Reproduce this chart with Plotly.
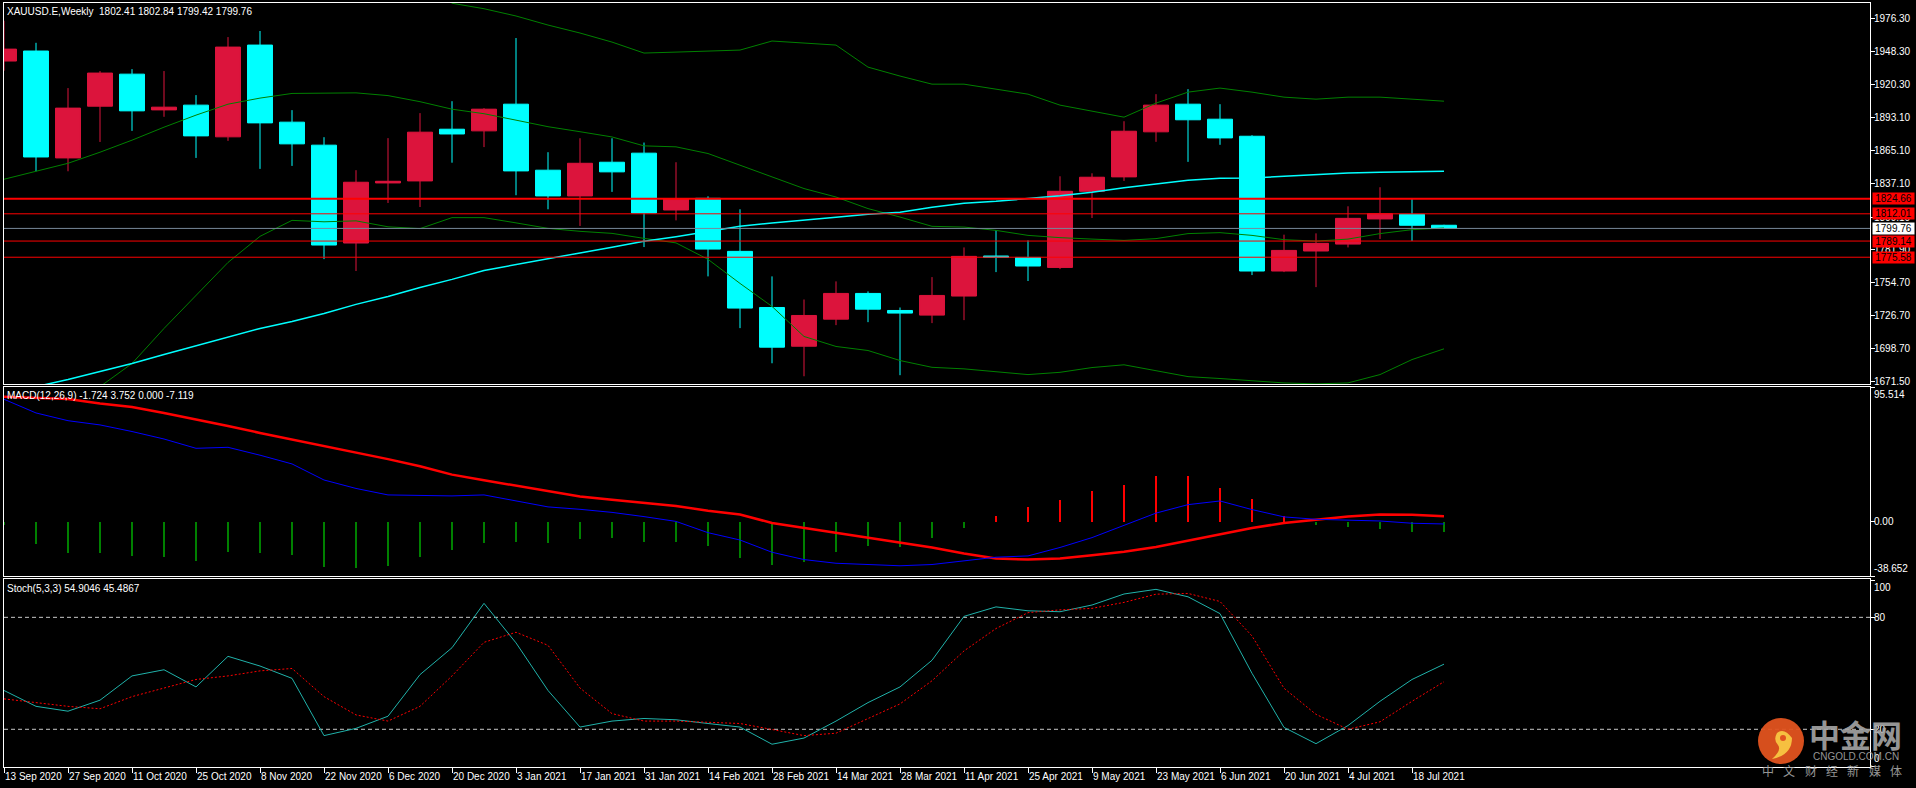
import plotly.graph_objects as go

W, H = 1916, 788

# ---------------- data ----------------
week_labels = ["13 Sep 2020", "20 Sep 2020", "27 Sep 2020", "4 Oct 2020", "11 Oct 2020", "18 Oct 2020",
               "25 Oct 2020", "1 Nov 2020", "8 Nov 2020", "15 Nov 2020", "22 Nov 2020", "29 Nov 2020",
               "6 Dec 2020", "13 Dec 2020", "20 Dec 2020", "27 Dec 2020", "3 Jan 2021", "10 Jan 2021",
               "17 Jan 2021", "24 Jan 2021", "31 Jan 2021", "7 Feb 2021", "14 Feb 2021", "21 Feb 2021",
               "28 Feb 2021", "7 Mar 2021", "14 Mar 2021", "21 Mar 2021", "28 Mar 2021", "4 Apr 2021",
               "11 Apr 2021", "18 Apr 2021", "25 Apr 2021", "2 May 2021", "9 May 2021", "16 May 2021",
               "23 May 2021", "30 May 2021", "6 Jun 2021", "13 Jun 2021", "20 Jun 2021", "27 Jun 2021",
               "4 Jul 2021", "11 Jul 2021", "18 Jul 2021", "25 Jul 2021"]

opens = [1940.2, 1948.6, 1858.9, 1902.3, 1929.2, 1899.2, 1903.2, 1876.6, 1953.6, 1888.9,
         1869.6, 1787.5, 1837.9, 1839.6, 1883.0, 1881.6, 1904.0, 1848.6, 1827.0, 1855.3,
         1862.9, 1815.2, 1825.0, 1780.5, 1733.4, 1700.9, 1723.6, 1745.2, 1730.9, 1727.0,
         1743.0, 1776.6, 1775.4, 1767.0, 1830.9, 1843.0, 1880.8, 1904.0, 1891.4, 1877.1,
         1764.0, 1780.8, 1786.6, 1807.7, 1811.6, 1802.41]
highs = [1974.0, 1955.5, 1917.5, 1931.8, 1933.4, 1931.8, 1911.6, 1960.3, 1965.4, 1899.0,
         1876.3, 1848.6, 1875.5, 1896.5, 1906.5, 1900.7, 1959.5, 1863.7, 1875.4, 1875.4,
         1871.8, 1855.3, 1826.7, 1815.8, 1759.5, 1740.1, 1755.3, 1746.9, 1733.4, 1758.9,
         1783.8, 1798.4, 1789.7, 1843.5, 1846.0, 1889.7, 1912.4, 1916.6, 1904.0, 1878.0,
         1794.5, 1795.6, 1818.3, 1834.3, 1825.0, 1802.84]
lows = [1932.0, 1847.7, 1847.7, 1872.3, 1881.6, 1893.4, 1858.9, 1873.2, 1849.7, 1852.2,
        1774.0, 1764.0, 1821.1, 1817.7, 1854.9, 1868.0, 1827.6, 1815.8, 1801.8, 1830.4,
        1784.1, 1806.5, 1759.5, 1716.1, 1686.6, 1675.7, 1718.6, 1721.1, 1676.6, 1720.3,
        1722.8, 1763.1, 1755.6, 1765.6, 1808.5, 1839.6, 1872.4, 1855.6, 1869.9, 1760.6,
        1763.1, 1750.5, 1783.8, 1790.9, 1789.2, 1799.42]
closes = [1950.2, 1859.7, 1900.7, 1930.1, 1898.4, 1901.5, 1877.4, 1951.9, 1888.3, 1870.7,
          1785.8, 1838.5, 1839.3, 1880.5, 1879.0, 1899.8, 1848.0, 1827.0, 1854.4, 1847.2,
          1812.7, 1824.5, 1782.4, 1732.9, 1700.1, 1726.7, 1745.2, 1732.0, 1728.7, 1743.5,
          1776.3, 1775.4, 1768.2, 1830.9, 1842.7, 1881.3, 1903.2, 1890.9, 1875.7, 1764.0,
          1781.3, 1787.2, 1808.2, 1812.1, 1802.4, 1799.76]

bb_upper = [2090.0, 2080.0, 2070.0, 2060.4, 2061.2, 2053.6, 2046.1, 2036.8, 2025.1, 2019.5,
            2021.7, 2020.9, 2021.3, 2012.6, 1988.7, 1984.1, 1978.0, 1970.4, 1963.7, 1956.1,
            1946.9, 1947.7, 1948.6, 1949.4, 1957.0, 1955.3, 1953.6, 1935.1, 1927.6, 1920.8,
            1920.8, 1916.6, 1912.4, 1903.2, 1898.1, 1893.1, 1904.9, 1914.1, 1917.5, 1914.1,
            1909.9, 1908.2, 1909.9, 1909.9, 1908.2, 1906.5]
bb_middle = [1841.0, 1848.0, 1854.4, 1863.7, 1873.8, 1884.7, 1894.8, 1904.0, 1909.1, 1913.0,
             1913.5, 1913.5, 1911.2, 1906.1, 1899.8, 1896.0, 1890.6, 1885.1, 1880.9, 1876.5,
             1869.0, 1868.2, 1862.6, 1852.8, 1842.9, 1833.2, 1826.1, 1816.4, 1809.3, 1801.5,
             1800.9, 1798.1, 1793.9, 1792.0, 1790.8, 1789.7, 1791.2, 1795.4, 1796.2, 1793.9,
             1790.3, 1789.1, 1790.8, 1795.4, 1798.7, 1800.1]
bb_lower = [1590.0, 1615.0, 1640.0, 1667.0, 1686.4, 1715.8, 1743.5, 1771.2, 1793.1, 1806.5,
            1805.3, 1806.1, 1801.1, 1799.6, 1808.8, 1808.8, 1804.4, 1799.8, 1797.3, 1795.6,
            1791.4, 1787.6, 1773.8, 1753.6, 1734.3, 1709.1, 1700.7, 1697.3, 1688.9, 1683.2,
            1681.9, 1679.6, 1677.1, 1679.0, 1683.0, 1685.3, 1680.5, 1675.4, 1673.8, 1672.1,
            1670.1, 1669.3, 1670.1, 1677.1, 1689.7, 1698.7]
ma_line = [1660.3, 1667.0, 1672.9, 1679.6, 1686.4, 1693.9, 1701.1, 1708.6, 1715.8, 1721.7,
           1728.4, 1736.0, 1742.7, 1750.2, 1757.0, 1764.5, 1769.6, 1774.2, 1779.2, 1783.9,
           1788.9, 1792.7, 1797.3, 1801.5, 1804.4, 1806.5, 1809.1, 1811.6, 1813.3, 1817.5,
           1820.8, 1822.5, 1824.6, 1827.1, 1830.1, 1833.9, 1837.0, 1840.2, 1841.8, 1842.1,
           1843.5, 1845.2, 1846.3, 1846.9, 1847.3, 1847.7]

macd_main = [86.8, 77.1, 71.6, 68.6, 63.9, 58.6, 52.0, 52.7, 47.1, 40.9,
             29.5, 23.5, 18.9, 18.4, 18.2, 18.9, 14.6, 10.4, 8.7, 6.5,
             3.5, 0.1, -7.9, -13.1, -21.8, -27.0, -29.6, -30.5, -31.4, -30.5,
             -28.0, -25.3, -24.4, -18.4, -11.4, -2.8, 6.0, 12.0, 14.6, 8.5,
             3.3, 1.6, 0.8, 0.4, -1.2, -1.724]
macd_signal = [88.6, 87.9, 87.0, 83.8, 81.3, 77.1, 72.7, 67.8, 62.9, 58.3,
               53.7, 49.2, 44.3, 39.3, 33.3, 29.3, 25.3, 21.7, 17.8, 15.5,
               13.3, 11.1, 7.7, 5.0, -1.0, -4.5, -7.9, -11.4, -14.9, -18.4,
               -22.7, -26.2, -27.0, -26.2, -24.0, -21.5, -18.0, -13.5, -9.0, -4.6,
               -1.0, 1.5, 3.6, 5.0, 4.8, 3.752]
macd_hist = [-2.3, -15.9, -22.0, -22.0, -24.8, -25.5, -27.7, -21.3, -22.0, -23.7,
             -32.0, -32.7, -31.3, -25.5, -20.5, -14.9, -14.2, -14.9, -12.3, -11.4,
             -14.2, -14.2, -17.4, -26.2, -30.5, -28.7, -21.6, -17.4, -18.0, -12.0,
             -4.5, 4.2, 10.4, 15.5, 21.6, 26.0, 32.0, 32.0, 24.0, 16.3,
             4.0, -2.5, -3.8, -5.5, -7.2, -7.119]

stoch_main = [40.8, 32.3, 29.7, 35.6, 48.6, 51.9, 42.7, 59.1, 53.9, 47.3,
              16.6, 20.5, 27.0, 49.3, 63.7, 87.5, 66.3, 40.8, 21.2, 24.4,
              25.8, 25.1, 23.1, 21.2, 12.0, 15.3, 24.4, 34.3, 42.7, 57.0,
              80.5, 85.6, 83.5, 83.0, 86.6, 92.5, 95.0, 91.0, 82.0, 50.0,
              21.0, 12.3, 22.0, 35.0, 46.7, 54.9046]
stoch_signal = [36.3, 34.3, 32.3, 31.0, 37.5, 42.1, 46.7, 48.6, 51.3, 52.6,
                37.5, 27.7, 24.4, 32.3, 48.6, 66.6, 72.0, 65.0, 42.1, 28.4,
                24.4, 24.4, 23.8, 23.1, 19.9, 16.6, 17.9, 25.8, 33.6, 46.0,
                62.0, 74.0, 82.5, 84.0, 84.8, 88.0, 92.4, 92.8, 88.5, 70.0,
                42.0, 28.0, 20.0, 24.0, 35.0, 45.4867]

price_ticks = [1976.30, 1948.30, 1920.30, 1893.10, 1865.10, 1837.10, 1809.10,
               1781.90, 1754.70, 1726.70, 1698.70, 1671.50]
level_lines = [1824.66, 1812.01, 1789.14, 1775.58]
level_widths = [2, 1, 1, 1]
bid_price = 1799.76
macd_max, macd_min = 95.514, -38.652
stoch_levels = [80, 20]
stoch_ticks = [100, 80, 20, 0]

idx = list(range(len(closes)))
tick_idx = idx[0:-1:2]
tick_text = week_labels[0:-1:2]

# ---------------- layout geometry (pixels of the 1916x788 page) ----------------
FONT = "Liberation Sans, Arial, sans-serif"
X_L, X_R = 4, 1870
PANES = {"y": (3, 384), "y2": (387, 576), "y3": (579, 767)}
PX_PER_BAR = 32.0
LBL_X = (X_R + 3) / W


def pdom(top, bot):
    return [1 - bot / H, 1 - top / H]


def px(x, y):
    return x / W, 1 - y / H


xr = [0, (X_R - X_L) / PX_PER_BAR]
xdom = [X_L / W, X_R / W]

fig = go.Figure()

# price pane
for series, color, width in [(bb_upper, "#008000", 1), (bb_middle, "#008000", 1),
                             (bb_lower, "#008000", 1), (ma_line, "#00FFFF", 1.5)]:
    fig.add_trace(go.Scatter(x=idx, y=series, mode="lines", line=dict(color=color, width=width),
                             xaxis="x", yaxis="y", hoverinfo="skip"))
fig.add_trace(go.Candlestick(x=idx, open=opens, high=highs, low=lows, close=closes,
                             increasing=dict(line=dict(color="#DC143C", width=1), fillcolor="#DC143C"),
                             decreasing=dict(line=dict(color="#00FFFF", width=1), fillcolor="#00FFFF"),
                             whiskerwidth=0, xaxis="x", yaxis="y", hoverinfo="skip"))

# MACD pane
hist_colors = ["#FF0000" if v > 0 else "#008000" for v in macd_hist]
fig.add_trace(go.Bar(x=idx, y=macd_hist, width=2 / PX_PER_BAR, marker=dict(color=hist_colors, line=dict(width=0)),
                     xaxis="x2", yaxis="y2", hoverinfo="skip"))
fig.add_trace(go.Scatter(x=idx, y=macd_signal, mode="lines", line=dict(color="#FF0000", width=2.5),
                         xaxis="x2", yaxis="y2", hoverinfo="skip"))
fig.add_trace(go.Scatter(x=idx, y=macd_main, mode="lines", line=dict(color="#0000FF", width=1),
                         xaxis="x2", yaxis="y2", hoverinfo="skip"))

# Stochastic pane
fig.add_trace(go.Scatter(x=idx, y=stoch_main, mode="lines", line=dict(color="#20B2AA", width=1),
                         xaxis="x3", yaxis="y3", hoverinfo="skip"))
fig.add_trace(go.Scatter(x=idx, y=stoch_signal, mode="lines", line=dict(color="#FF0000", width=1, dash="2px,2px"),
                         xaxis="x3", yaxis="y3", hoverinfo="skip"))

shapes = []
for v, w in zip(level_lines, level_widths):
    shapes.append(dict(type="line", xref="x domain", yref="y", x0=0, x1=1, y0=v, y1=v,
                       line=dict(color="#FF0000", width=w), layer="above"))
shapes.append(dict(type="line", xref="x domain", yref="y", x0=0, x1=1, y0=bid_price, y1=bid_price,
                   line=dict(color="#778899", width=1), layer="above"))
for v in stoch_levels:
    shapes.append(dict(type="line", xref="x3 domain", yref="y3", x0=0, x1=1, y0=v, y1=v,
                       line=dict(color="#C8C8C8", width=1, dash="4px,3px"), layer="below"))

# logo (decoration)
cx, cy, r = 1781, 741, 23
x0, y1 = px(cx - r, cy - r)
x1, y0 = px(cx + r, cy + r)
shapes.append(dict(type="circle", xref="paper", yref="paper", x0=x0, x1=x1, y0=y0, y1=y1,
                   fillcolor="#E2531F", line=dict(width=0), layer="above", opacity=0.95))


def path(points):
    parts = []
    for cmd, pts in points:
        parts.append(cmd + " " + " ".join("%.5f,%.5f" % px(a, b) for a, b in pts))
    return " ".join(parts) + " Z"


swirl = path([("M", [(cx + 11, cy - 3)]),
              ("Q", [(cx + 11, cy + 14), (cx - 9, cy + 18)]),
              ("Q", [(cx + 1, cy + 9), (cx - 3, cy + 4)]),
              ("Q", [(cx - 8, cy - 1), (cx - 4, cy - 8)]),
              ("Q", [(cx + 3, cy - 14), (cx + 11, cy - 3)])])
shapes.append(dict(type="path", xref="paper", yref="paper", path=swirl,
                   fillcolor="#F6C040", line=dict(width=0), layer="above"))
hx0, hy1 = px(cx - 1, cy - 6)
hx1, hy0 = px(cx + 5, cy)
shapes.append(dict(type="circle", xref="paper", yref="paper", x0=hx0, x1=hx1, y0=hy0, y1=hy1,
                   fillcolor="#E2531F", line=dict(width=0), layer="above"))

ann = []


def text_at(xp, yp, s, size=10, color="white", xanchor="left", yanchor="middle", family=FONT, **kw):
    ax_, ay_ = px(xp, yp)
    d = dict(x=ax_, y=ay_, xref="paper", yref="paper", text=s, showarrow=False, xanchor=xanchor,
             yanchor=yanchor, font=dict(size=size, color=color, family=family))
    d.update(kw)
    ann.append(d)


def axis_label(yref, v, s, yanchor="middle", yshift=0):
    ann.append(dict(x=LBL_X, y=v, xref="paper", yref=yref, text=s, showarrow=False, xanchor="left",
                    yanchor=yanchor, yshift=yshift, borderpad=0,
                    font=dict(size=10, color="white", family=FONT)))


text_at(5, 11, "XAUUSD.E,Weekly\u00a0\u00a01802.41 1802.84 1799.42 1799.76", size=10)
text_at(5, 396, "MACD(12,26,9) -1.724 3.752 0.000 -7.119", size=10)
text_at(5, 588, "Stoch(5,3,3) 54.9046 45.4867", size=10)

# x tick labels (text starting just right of each tick)
for i, t in zip(tick_idx, tick_text):
    ann.append(dict(x=i, y=1 - 776 / H, xref="x3", yref="paper", text=t, showarrow=False,
                    xanchor="left", yanchor="middle", xshift=-1,
                    font=dict(size=10, color="white", family=FONT)))

# right-scale labels
for v in price_ticks:
    axis_label("y", v, "%.2f" % v)
axis_label("y2", macd_max, "%.3f" % macd_max, yanchor="top", yshift=-1)
axis_label("y2", 0, "0.00")
axis_label("y2", macd_min, "%.3f" % macd_min, yanchor="bottom", yshift=1)
axis_label("y3", stoch_ticks[0], str(stoch_ticks[0]), yanchor="top", yshift=-1)
axis_label("y3", stoch_ticks[1], str(stoch_ticks[1]))
axis_label("y3", stoch_ticks[2], str(stoch_ticks[2]))
axis_label("y3", stoch_ticks[3], str(stoch_ticks[3]), yanchor="bottom", yshift=2)

# price level labels on the right scale
for v in level_lines:
    ann.append(dict(x=(X_R + 2) / W, y=v, xref="paper", yref="y", text="%.2f" % v, showarrow=False,
                    xanchor="left", yanchor="middle", bgcolor="#FF0000", borderpad=0, width=41, height=11,
                    font=dict(size=10, color="#000000", family=FONT)))
ann.append(dict(x=(X_R + 2) / W, y=bid_price, xref="paper", yref="y", text="%.2f" % bid_price,
                showarrow=False, xanchor="left", yanchor="middle", bgcolor="#FFFFFF", borderpad=0,
                width=41, height=11, font=dict(size=10, color="#000000", family=FONT)))

# logo texts
CJK = "Noto Sans CJK SC"
text_at(1855, 733, "<b>中金网</b>", size=31, color="#A6A6A6", xanchor="center", family=CJK, opacity=0.9)
text_at(1856, 756, "CNGOLD.COM.CN", size=10, color="#A6A6A6", xanchor="center", family="Liberation Sans",
        opacity=0.9)
for k, ch in enumerate("中文财经新媒体"):
    text_at(1768 + 21.3 * k, 770, ch, size=12, color="#A6A6A6", xanchor="center", family=CJK, opacity=0.9)

axis_common = dict(showgrid=False, zeroline=False, showline=True, mirror=True, linecolor="white", linewidth=1)
xcommon = dict(domain=xdom, range=xr, showticklabels=False, **axis_common)
ytick = dict(ticks="outside", ticklen=4, tickcolor="white", tickwidth=1, showticklabels=False, side="right")

fig.update_layout(
    width=W, height=H, margin=dict(l=0, r=0, t=0, b=0),
    paper_bgcolor="black", plot_bgcolor="black", showlegend=False,
    boxgap=0.22, boxgroupgap=0, bargap=0,
    xaxis=dict(anchor="y", ticks="", rangeslider=dict(visible=False), **xcommon),
    xaxis2=dict(anchor="y2", ticks="", matches="x", **xcommon),
    xaxis3=dict(anchor="y3", matches="x", ticks="outside", ticklen=5, tickcolor="white",
                tickvals=tick_idx, **xcommon),
    yaxis=dict(anchor="x", domain=pdom(*PANES["y"]), range=[1669.2, 1988.9], tickvals=price_ticks,
               **ytick, **axis_common),
    yaxis2=dict(anchor="x2", domain=pdom(*PANES["y2"]), range=[macd_min, macd_max],
                tickvals=[macd_max, 0, macd_min], **ytick, **axis_common),
    yaxis3=dict(anchor="x3", domain=pdom(*PANES["y3"]), range=[-0.21, 100.54],
                tickvals=stoch_ticks, **ytick, **axis_common),
    shapes=shapes, annotations=ann,
)

fig.write_html("out.html", config={"displayModeBar": False},
               post_script="document.body.style.margin='0px';document.body.style.overflow='hidden';"
                           "document.body.style.background='black';")
